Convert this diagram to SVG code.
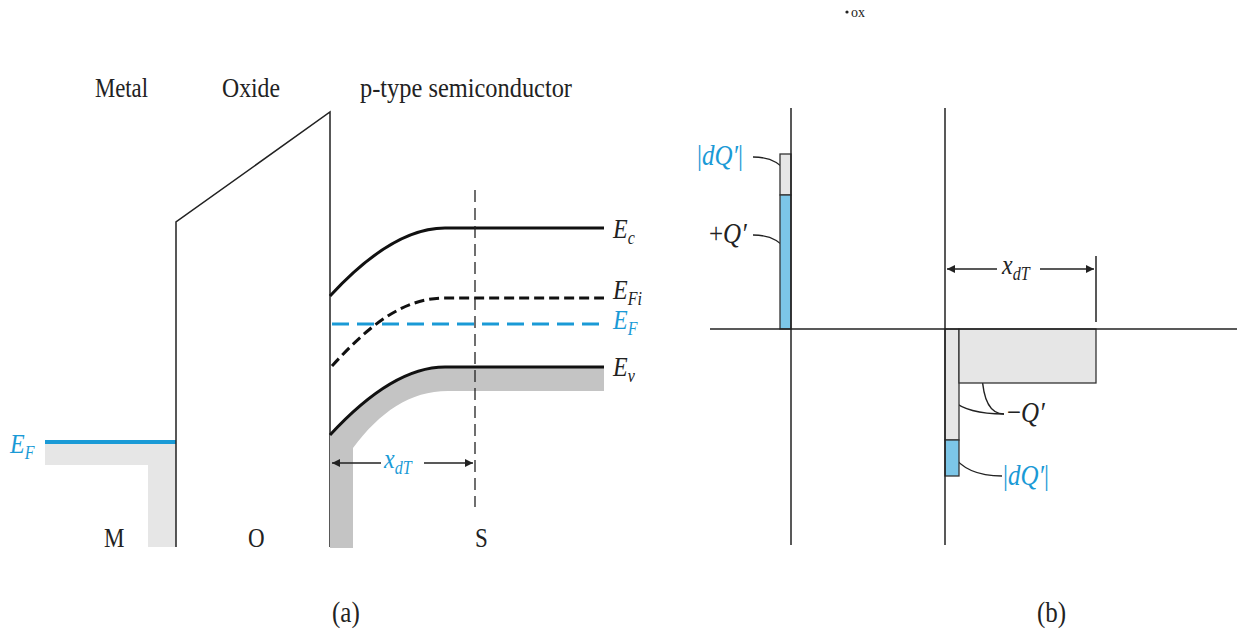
<svg xmlns="http://www.w3.org/2000/svg" width="1238" height="633" viewBox="0 0 1238 633">
<style>
.t{font-family:"Liberation Serif","Times New Roman",serif;fill:#222}
.i{font-style:italic}
.b{fill:#1a9ad6}
.ln{stroke:#222;stroke-width:1.5;fill:none}
.band{stroke:#111;stroke-width:3;fill:none}
.lead{stroke:#222;stroke-width:1.4;fill:none}
</style>
<defs>
<marker id="ah" viewBox="0 0 10 10" refX="10" refY="5" markerWidth="12" markerHeight="8" markerUnits="userSpaceOnUse" orient="auto-start-reverse">
<path d="M0,0 L10,5 L0,10 Z" fill="#222"/>
</marker>
</defs>
<rect width="1238" height="633" fill="#fff"/>

<g id="panel-a-labels">
<text class="t" transform="translate(95,97) scale(1,1.22)" font-size="22" textLength="53" lengthAdjust="spacingAndGlyphs">Metal</text>
<text class="t" transform="translate(222,97) scale(1,1.22)" font-size="22" textLength="58" lengthAdjust="spacingAndGlyphs">Oxide</text>
<text class="t" transform="translate(360,97) scale(1,1.22)" font-size="22" textLength="212" lengthAdjust="spacingAndGlyphs">p-type semiconductor</text>
<text class="t" transform="translate(104,547) scale(1,1.22)" font-size="23">M</text>
<text class="t" transform="translate(248,547) scale(1,1.22)" font-size="23">O</text>
<text class="t" transform="translate(475,547) scale(1,1.22)" font-size="23">S</text>
<text class="t" transform="translate(332,622) scale(1,1.22)" font-size="25">(a)</text>
<text class="t" transform="translate(1037,622) scale(1,1.22)" font-size="25">(b)</text>
</g>

<g id="metal">
<path d="M45,442 H176 V547 H148 V465 H45 Z" fill="#e6e6e6"/>
<line x1="45" y1="442" x2="176" y2="442" stroke="#1a9ad6" stroke-width="4"/>
<text class="t i b" transform="translate(10,453) scale(1,1.18)" font-size="24">E<tspan dy="5" font-size="16">F</tspan></text>
</g>

<g id="oxide">
<path class="ln" d="M176,547 V222 L330,112 V547"/>
</g>

<g id="semiconductor">
<path d="M330,435 C365,397 405,367 445,367 H604 V391 H448 C410,391 380,412 353,448 V548 H330 Z" fill="#c4c4c4"/>
<path class="band" d="M330,296 C365,258 405,228 445,228 H604"/>
<path class="band" d="M332,366 C365,330 400,298 445,298 H604" stroke-dasharray="10,5"/>
<line x1="332" y1="324" x2="604" y2="324" stroke="#1a9ad6" stroke-width="3" stroke-dasharray="17,8"/>
<path class="band" d="M330,435 C365,397 405,367 445,367 H604"/>
<line x1="475" y1="190" x2="475" y2="507" stroke="#222" stroke-width="1.3" stroke-dasharray="12,6"/>
<text class="t i" transform="translate(613,238) scale(1,1.18)" font-size="24">E<tspan dy="5" font-size="16">c</tspan></text>
<text class="t i" transform="translate(613,299) scale(1,1.18)" font-size="24">E<tspan dy="5" font-size="16">Fi</tspan></text>
<text class="t i b" transform="translate(613,329) scale(1,1.18)" font-size="24">E<tspan dy="5" font-size="16">F</tspan></text>
<text class="t i" transform="translate(613,376) scale(1,1.18)" font-size="24">E<tspan dy="5" font-size="16">v</tspan></text>
</g>

<g id="connectors">
<line class="ln" x1="332" y1="463" x2="381" y2="463" marker-start="url(#ah)"/>
<line class="ln" x1="424" y1="463" x2="473" y2="463" marker-end="url(#ah)"/>
<line class="ln" x1="947" y1="269" x2="997" y2="269" marker-start="url(#ah)"/>
<line class="ln" x1="1040" y1="269" x2="1094" y2="269" marker-end="url(#ah)"/>
<path class="lead" d="M753,157 C772,157 785,165 786,177"/>
<path class="lead" d="M753,235 C772,235 785,243 786,255"/>
<path class="lead" d="M1004,414 C985,414 965,412 952,400"/>
<path class="lead" d="M1004,414 C990,414 983,400 982,374"/>
<path class="lead" d="M1002,476 C980,476 962,470 952,454"/>
</g>

<g id="xdT-a">
<text class="t i b" transform="translate(384,468) scale(1,1.18)" font-size="24">x<tspan dy="5" font-size="16">dT</tspan></text>
</g>

<g id="panel-b">
<circle cx="847" cy="12" r="1.6" fill="#222"/>
<text class="t" x="851" y="17" font-size="14">ox</text>
<rect x="780" y="154" width="11" height="41" fill="#e6e6e6" stroke="#333" stroke-width="1.3"/>
<rect x="780" y="195" width="11" height="134" fill="#7cc6e8" stroke="#333" stroke-width="1.3"/>
<rect x="945" y="329" width="14" height="111" fill="#e6e6e6" stroke="#333" stroke-width="1.3"/>
<rect x="945" y="440" width="14" height="36" fill="#7cc6e8" stroke="#333" stroke-width="1.3"/>
<rect x="959" y="329" width="137" height="54" fill="#e6e6e6" stroke="#333" stroke-width="1.3"/>
<line class="ln" x1="791" y1="108" x2="791" y2="545"/>
<line class="ln" x1="945" y1="108" x2="945" y2="545"/>
<line class="ln" x1="710" y1="329" x2="1237" y2="329"/>
<line class="ln" x1="1096" y1="256" x2="1096" y2="322" stroke-width="2"/>
<text class="t i" transform="translate(1002,274) scale(1,1.18)" font-size="24">x<tspan dy="5" font-size="16">dT</tspan></text>
<text class="t b" transform="translate(697,165) scale(1,1.18)" font-size="25">|<tspan class="i">dQ′</tspan>|</text>
<text class="t" transform="translate(709,243) scale(1,1.18)" font-size="25">+<tspan class="i">Q′</tspan></text>
<text class="t" transform="translate(1007,422) scale(1,1.18)" font-size="25">−<tspan class="i">Q′</tspan></text>
<text class="t b" transform="translate(1003,485) scale(1,1.18)" font-size="25">|<tspan class="i">dQ′</tspan>|</text>
</g>
</svg>
